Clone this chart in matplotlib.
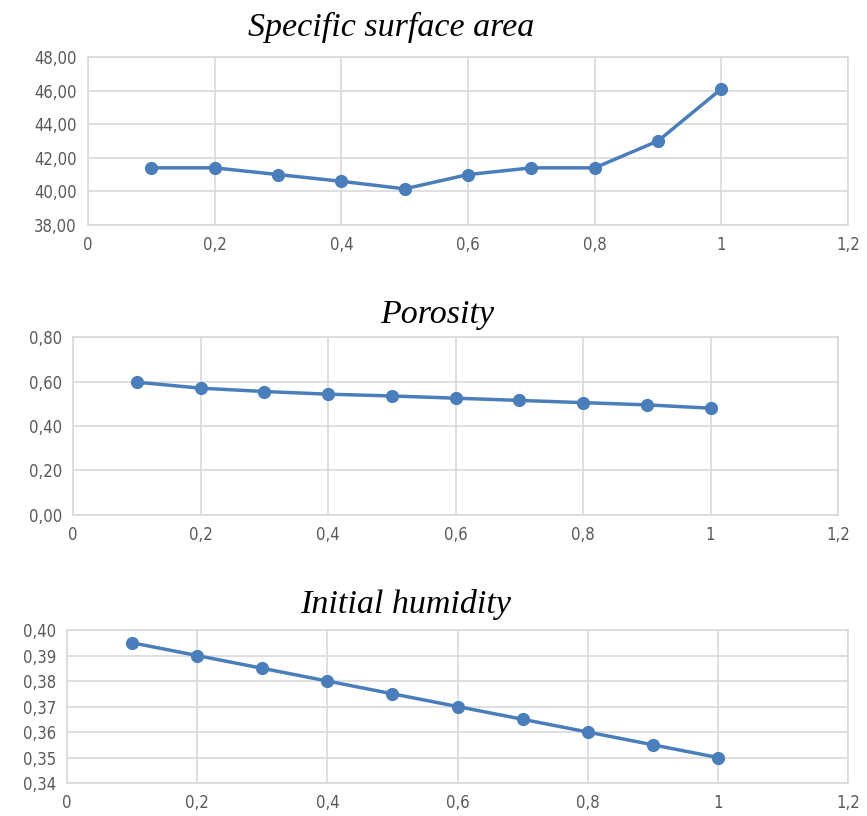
import matplotlib.pyplot as plt
from matplotlib.ticker import FuncFormatter, MultipleLocator

# shared x values
x = [0.1, 0.2, 0.3, 0.4, 0.5, 0.6, 0.7, 0.8, 0.9, 1.0]

# series
surface_area = [41.4, 41.4, 41.0, 40.6, 40.15, 41.0, 41.4, 41.4, 43.0, 46.1]
porosity = [0.597, 0.57, 0.555, 0.543, 0.535, 0.525, 0.515, 0.505, 0.495, 0.48]
humidity = [0.395, 0.39, 0.385, 0.38, 0.375, 0.37, 0.365, 0.36, 0.355, 0.35]

titles = ["Specific surface area", "Porosity", "Initial humidity"]

blue = '#4A7EBB'
grid_col = '#D9D9D9'
tick_col = '#595959'

fig = plt.figure(figsize=(8.67, 8.16), dpi=100)

# axes boxes, figure fractions
boxes = [
    [0.1015, 0.7243, 0.8766, 0.2059],
    [0.0842, 0.3689, 0.8824, 0.2181],
    [0.0773, 0.0404, 0.9008, 0.1875],
]
ylims = [(38, 48, 2), (0, 0.8, 0.2), (0.34, 0.40, 0.01)]
series = [surface_area, porosity, humidity]
title_pos = [(0.451, 0.966), (0.504, 0.614), (0.468, 0.259)]


def xfmt(v, pos):
    s = ('%.1f' % v).rstrip('0').rstrip('.')
    return s.replace('.', ',')


def yfmt(v, pos):
    return ('%.2f' % v).replace('.', ',')


for box, yl, ys, t, tp in zip(boxes, ylims, series, titles, title_pos):
    ax = fig.add_axes(box)
    ax.plot(x, ys, '-o', color=blue, lw=2.5, markersize=8.5, zorder=3)
    ax.set_xlim(0, 1.2)
    ax.set_ylim(yl[0], yl[1])
    ax.xaxis.set_major_locator(MultipleLocator(0.2))
    ax.yaxis.set_major_locator(MultipleLocator(yl[2]))
    ax.xaxis.set_major_formatter(FuncFormatter(xfmt))
    ax.yaxis.set_major_formatter(FuncFormatter(yfmt))
    ax.grid(True, color=grid_col, lw=1.2)
    ax.set_axisbelow(True)
    for sp in ax.spines.values():
        sp.set_color(grid_col)
        sp.set_linewidth(1.2)
    ax.tick_params(length=0, colors=tick_col, labelsize=12, pad=8)
    for lab in ax.get_xticklabels() + ax.get_yticklabels():
        lab.set_stretch('condensed')
    fig.text(tp[0], tp[1], t, ha='center', va='center', fontsize=24.5,
             style='italic', family='Liberation Serif')

fig.savefig('out.png', dpi=100)
